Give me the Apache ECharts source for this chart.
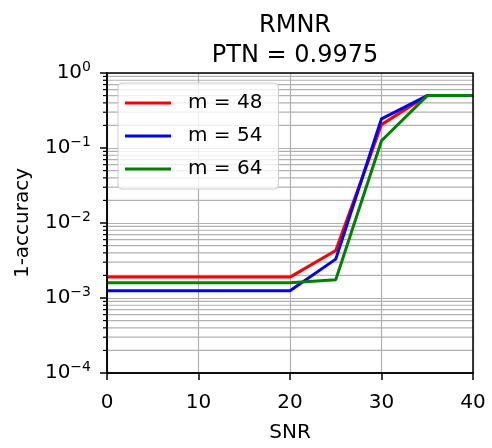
<!DOCTYPE html>
<html>
<head>
<meta charset="utf-8">
<script src="https://cdn.jsdelivr.net/npm/echarts@6/dist/echarts.min.js"></script>
<style>html,body{margin:0;padding:0;background:#fff;}#chart{width:492px;height:448px;}</style>
</head>
<body>
<div id="chart"></div>
<script>
const snr = [0, 5, 10, 15, 20, 25, 30, 35, 40];
const m48 = [0.0019, 0.0019, 0.0019, 0.0019, 0.0019, 0.0043, 0.205, 0.5, 0.5];
const m54 = [0.00125, 0.00125, 0.00125, 0.00125, 0.00125, 0.0033, 0.245, 0.5, 0.5];
const m64 = [0.0016, 0.0016, 0.0016, 0.0016, 0.0016, 0.00175, 0.125, 0.5, 0.5];
const seriesNames = ['m = 48', 'm = 54', 'm = 64'];
const seriesColors = ['#ff0000', '#0000ff', '#008000'];
const titleText = 'RMNR\nPTN = 0.9975';
const xRange = [0, 40];
const yRange = [1e-4, 1];

const minorVals = [];
for (let k = -4; k < 0; k++) {
  for (let d = 2; d <= 9; d++) minorVals.push(+(d * Math.pow(10, k)).toPrecision(3));
}

const font = 'DejaVu Sans';
const chart = echarts.init(document.getElementById('chart'), null, {renderer: 'canvas'});
const allSeries = [m48, m54, m64].map((arr, i) => ({
  name: seriesNames[i],
  type: 'line',
  data: snr.map((x, j) => [x, arr[j]]),
  showSymbol: false,
  symbol: 'none',
  lineStyle: {color: seriesColors[i], width: 3},
  itemStyle: {color: seriesColors[i]},
  z: 5 + i
}));
allSeries.push({
  name: 'minor',
  type: 'custom',
  silent: true,
  clip: false,
  z: 1,
  data: minorVals.map(v => [xRange[0], v]),
  renderItem: (params, api) => {
    const p0 = api.coord([xRange[0], api.value(1)]);
    const p1 = api.coord([xRange[1], api.value(1)]);
    return {
      type: 'group',
      children: [
        {type: 'line', shape: {x1: p0[0], y1: p0[1], x2: p1[0], y2: p1[1]},
         style: {stroke: '#b0b0b0', lineWidth: 1.2}},
        {type: 'line', shape: {x1: p0[0] - 4, y1: p0[1], x2: p0[0], y2: p0[1]},
         style: {stroke: '#000', lineWidth: 1.2}}
      ]
    };
  }
});

chart.setOption({
  animation: false,
  backgroundColor: '#fff',
  title: {
    text: titleText,
    left: 290,
    top: 6,
    textAlign: 'center',
    textStyle: {fontFamily: font, fontSize: 24, fontWeight: 'normal', color: '#000', lineHeight: 30}
  },
  grid: {left: 107, right: 19, top: 73, bottom: 71, show: true, borderColor: '#000', borderWidth: 1.5, backgroundColor: 'transparent', z: 10},
  legend: {
    data: seriesNames,
    orient: 'vertical',
    left: 118,
    top: 83,
    padding: [10, 16, 10, 7],
    itemGap: 13,
    itemWidth: 46,
    itemHeight: 3,
    icon: 'rect',
    backgroundColor: 'rgba(255,255,255,0.8)',
    borderColor: '#cccccc',
    borderWidth: 1,
    borderRadius: 4,
    textStyle: {fontFamily: font, fontSize: 20, color: '#000', padding: [0, 0, 0, 12]}
  },
  xAxis: {
    type: 'value',
    min: xRange[0], max: xRange[1], interval: 10,
    name: 'SNR',
    nameLocation: 'middle',
    nameGap: 50,
    nameTextStyle: {fontFamily: font, fontSize: 20, color: '#000'},
    axisLine: {show: true, lineStyle: {color: '#000', width: 1.5}},
    axisTick: {show: true, length: 7, lineStyle: {color: '#000', width: 1.5}},
    axisLabel: {fontFamily: font, fontSize: 20, color: '#000', margin: 20},
    splitLine: {show: true, lineStyle: {color: '#b0b0b0', width: 1.2}}
  },
  yAxis: {
    type: 'log',
    logBase: 10,
    min: yRange[0], max: yRange[1],
    name: '1-accuracy',
    nameLocation: 'middle',
    nameRotate: 90,
    nameGap: 74,
    nameTextStyle: {fontFamily: font, fontSize: 20, color: '#000'},
    axisLine: {show: true, lineStyle: {color: '#000', width: 1.5}},
    axisTick: {show: true, length: 7, lineStyle: {color: '#000', width: 1.5}},
    axisLabel: {
      margin: 16,
      formatter: v => {
        const e = Math.round(Math.log10(v));
        return '{b|10}{s|' + (e < 0 ? '\u2212' + (-e) : e) + '}';
      },
      rich: {
        b: {fontFamily: font, fontSize: 20, color: '#000'},
        s: {fontFamily: font, fontSize: 14, color: '#000', padding: [0, 0, 12, 0]}
      }
    },
    splitLine: {show: true, lineStyle: {color: '#b0b0b0', width: 1.2}}
  },
  series: allSeries
});
</script>
</body>
</html>
